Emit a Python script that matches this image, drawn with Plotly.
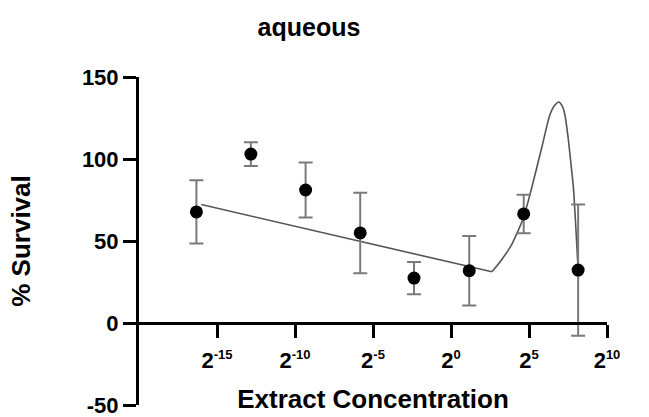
import plotly.graph_objects as go

# Data (x given as log2 of extract concentration)
point_log2_conc = [-16.32, -12.83, -9.32, -5.82, -2.37, 1.17, 4.66, 8.15]
survival = [67.7, 103.0, 81.1, 54.9, 27.4, 31.9, 66.5, 32.3]
survival_err = [19.3, 7.2, 16.8, 24.5, 9.8, 21.2, 11.7, 40.0]

fit_log2_conc = [-16.0, 2.62, 3.2, 3.89, 4.64, 5.17, 5.81, 6.34, 6.65, 6.92, 7.12,
                 7.30, 7.51, 7.68, 7.85, 8.04, 8.15]
fit_survival = [72.2, 31.2, 38.0, 47.8, 64.0, 82.3, 106.7, 127.0, 132.8, 134.8, 132.5,
                127.0, 112.8, 98.0, 82.3, 51.8, 32.0]

tick_exps = [-15, -10, -5, 0, 5, 10]
tick_labels = [f"2<sup><span style='font-size:13px'>{e}</span></sup>" for e in tick_exps]
y_tick_vals = [-50, 0, 50, 100, 150]
y_tick_labels = ["-50", "0", "50", "100", "150"]

FONT = "Arial, Liberation Sans, sans-serif"
FIT_COLOR = "#555555"

fig = go.Figure()
# straight part of the fit
fig.add_trace(go.Scatter(
    x=[2 ** e for e in fit_log2_conc[:2]], y=fit_survival[:2], mode="lines",
    line=dict(color=FIT_COLOR, width=1.6), hoverinfo="skip", showlegend=False))
# curved part of the fit
fig.add_trace(go.Scatter(
    x=[2 ** e for e in fit_log2_conc[1:]], y=fit_survival[1:], mode="lines",
    line=dict(color=FIT_COLOR, width=1.6, shape="spline", smoothing=0.6),
    hoverinfo="skip", showlegend=False))
fig.add_trace(go.Scatter(
    x=[2 ** e for e in point_log2_conc], y=survival, mode="markers",
    marker=dict(color="black", size=13),
    error_y=dict(type="data", array=survival_err, color="#7a7a7a", thickness=2, width=7),
    showlegend=False))

fig.update_layout(
    width=649, height=417,
    margin=dict(l=139, r=42, t=77, b=12, autoexpand=False),
    plot_bgcolor="white", paper_bgcolor="white",
    title=dict(text="aqueous", x=309 / 649, xanchor="center", y=1 - 27 / 417, yanchor="middle",
               font=dict(family=FONT, size=25, color="black", weight="bold")),
    xaxis=dict(
        type="log", range=[-20 * 0.30103, 10 * 0.30103],
        tickvals=[2 ** e for e in tick_exps], ticktext=tick_labels,
        anchor="free", position=0.25,
        showline=True, linewidth=3, linecolor="black",
        ticks="outside", ticklen=13, tickwidth=3, tickcolor="black",
        ticklabelstandoff=4,
        showgrid=False, zeroline=False,
        tickfont=dict(family=FONT, size=22, color="black", weight="bold"),
        title=dict(text="Extract Concentration", standoff=17,
                   font=dict(family=FONT, size=26, color="black", weight="bold")),
    ),
    yaxis=dict(
        range=[-50, 150], tickvals=y_tick_vals, ticktext=y_tick_labels,
        showline=True, linewidth=3, linecolor="black",
        ticks="outside", ticklen=13, tickwidth=3, tickcolor="black",
        ticklabeloverflow="allow",
        showgrid=False, zeroline=False,
        tickfont=dict(family=FONT, size=22, color="black", weight="bold"),
        title=dict(text="% Survival", standoff=44,
                   font=dict(family=FONT, size=26, color="black", weight="bold")),
    ),
)

fig.write_html("out.html")
